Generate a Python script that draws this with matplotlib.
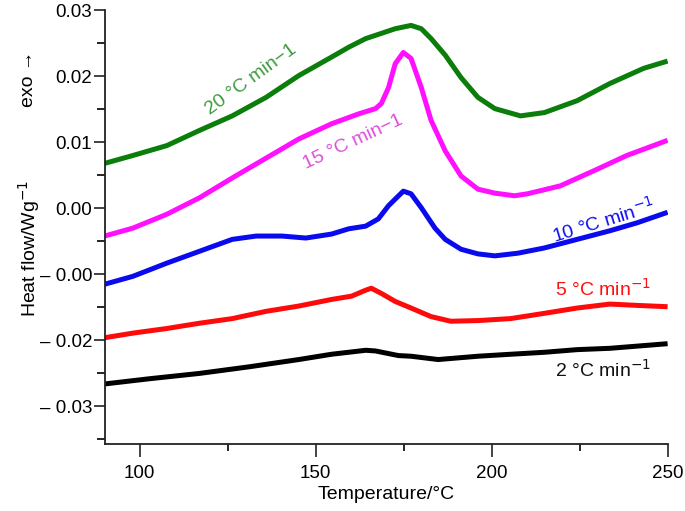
import numpy as np
import matplotlib.pyplot as plt
from matplotlib.ticker import MultipleLocator

plt.rcParams['font.family'] = ['Liberation Sans', 'DejaVu Sans']

# ── DSC traces (T in °C, heat flow in W/g) ───────────────────────────────────
t_20 = [90, 98.05, 107.7, 117.0, 126.3, 135.9, 145.2, 154.5, 159.4, 164.2, 168.7,
        172.6, 177.1, 180.0, 182.8, 186.8, 191.3, 196.1, 200.9, 208.2, 215.0,
        224.3, 233.6, 243.2, 250]
hf_20 = [0.0068, 0.0080, 0.0095, 0.0118, 0.0140, 0.0168, 0.0201, 0.0229, 0.0244,
         0.0257, 0.0265, 0.0272, 0.0277, 0.0272, 0.0257, 0.0232, 0.0198, 0.0168,
         0.0151, 0.0140, 0.0145, 0.0163, 0.0189, 0.0212, 0.0223]

t_15 = [90, 98.05, 107.7, 117.0, 126.3, 135.9, 145.2, 154.5, 162.2, 167.0, 168.7,
        170.7, 172.6, 174.9, 177.1, 180.0, 182.8, 186.8, 191.3, 196.1, 200.9,
        206.5, 210.2, 219.5, 229.1, 238.4, 250]
hf_15 = [-0.0042, -0.0030, -0.0009, 0.0016, 0.0046, 0.0076, 0.0105, 0.0128, 0.0143,
         0.0151, 0.0159, 0.0183, 0.0219, 0.0236, 0.0227, 0.0183, 0.0133, 0.0087,
         0.0049, 0.0029, 0.0023, 0.0019, 0.0022, 0.0034, 0.0057, 0.0080, 0.0103]

t_10 = [90, 98.05, 107.7, 117.0, 126.3, 133.1, 140.4, 147.2, 154.5, 159.4, 164.2,
        167.8, 170.7, 174.9, 177.1, 180.0, 183.9, 186.8, 191.3, 196.1, 200.9,
        207.4, 215.0, 224.3, 233.6, 241.3, 250]
hf_10 = [-0.0115, -0.0103, -0.0083, -0.0065, -0.0047, -0.0042, -0.0042, -0.0045,
         -0.0039, -0.0031, -0.0027, -0.0016, 0.0004, 0.0026, 0.0022, 0.0001,
         -0.0030, -0.0047, -0.0062, -0.0069, -0.0072, -0.0068, -0.0060, -0.0047,
         -0.0034, -0.0022, -0.0006]

t_5 = [90, 98.05, 107.7, 117.0, 126.3, 135.9, 145.2, 154.5, 160.2, 164.2, 165.8,
       168.7, 172.6, 177.1, 182.8, 188.4, 196.1, 205.4, 215.0, 224.3, 233.6,
       241.3, 250]
hf_5 = [-0.0196, -0.0189, -0.0182, -0.0174, -0.0167, -0.0156, -0.0148, -0.0138,
        -0.0133, -0.0124, -0.0121, -0.0129, -0.0141, -0.0151, -0.0164, -0.0171,
        -0.0170, -0.0167, -0.0159, -0.0151, -0.0145, -0.0147, -0.0149]

t_2 = [90, 102.9, 117.0, 131.1, 145.2, 154.5, 164.2, 167.0, 173.5, 177.1, 184.8,
       196.1, 205.4, 215.0, 224.3, 233.6, 250]
hf_2 = [-0.0266, -0.0258, -0.0250, -0.0240, -0.0229, -0.0221, -0.0215, -0.0216,
        -0.0223, -0.0224, -0.0229, -0.0224, -0.0221, -0.0218, -0.0214, -0.0212,
        -0.0205]

series = [
    (t_20, hf_20, '#0a7d0a'),
    (t_15, hf_15, '#ff10ff'),
    (t_10, hf_10, '#0a0aee'),
    (t_5, hf_5, '#ff0a0a'),
    (t_2, hf_2, '#000000'),
]

ytick_vals = [0.03, 0.02, 0.01, 0.00, -0.01, -0.02, -0.03]
ytick_text = ['0.03', '0.02', '0.01', '0.00', '– 0.00', '– 0.02', '– 0.03']

# ── Figure ───────────────────────────────────────────────────────────────────
fig = plt.figure(figsize=(6.85, 5.11), dpi=100)
ax = fig.add_axes([0.1526, 0.131, 0.822, 0.849])

for t, hf, col in series:
    ax.plot(t, hf, color=col, lw=3.6, solid_capstyle='butt', solid_joinstyle='round')

ax.set_xlim(90, 250)
ax.set_ylim(-0.0357, 0.03)

ax.set_xticks([100, 150, 200, 250])
ax.xaxis.set_minor_locator(MultipleLocator(25))
ax.set_yticks(ytick_vals)
ax.set_yticklabels(ytick_text)
ax.yaxis.set_minor_locator(MultipleLocator(0.005))

ax.tick_params(axis='both', which='major', labelsize=13.5, direction='out',
               width=1.2, color='#222222')
ax.tick_params(axis='x', which='major', length=9, pad=6)
ax.tick_params(axis='x', which='minor', length=5, width=1.2)
ax.tick_params(axis='y', which='major', length=8, pad=1)
ax.tick_params(axis='y', which='minor', length=6, width=1.2)

for side in ['top', 'right']:
    ax.spines[side].set_visible(False)
for side in ['left', 'bottom']:
    ax.spines[side].set_linewidth(1.3)
    ax.spines[side].set_color('#222222')

ax.set_xlabel('Temperature/°C', fontsize=14, labelpad=3)
fig.text(0.042, 0.513, 'Heat flow/Wg$^{-1}$', rotation=90, fontsize=14,
         ha='center', va='center')
fig.text(0.042, 0.845, 'exo →', rotation=90, fontsize=14,
         ha='center', va='center')

# curve labels
ax.text(131.7, 0.0195, '20 °C min−1', color='#3f9a3f', fontsize=14,
        rotation=36, ha='center', va='center', rotation_mode='anchor')
ax.text(160.5, 0.0101, '15 °C min−1', color='#dc4fdc', fontsize=14,
        rotation=25, ha='center', va='center', rotation_mode='anchor')
ax.text(231.7, -0.0018, '10 °C min$^{-1}$', color='#1010ee', fontsize=14,
        rotation=17, ha='center', va='center', rotation_mode='anchor')
ax.text(231.7, -0.0122, '5 °C min$^{-1}$', color='#ff1010', fontsize=14,
        ha='center', va='center')
ax.text(231.7, -0.0244, '2 °C min$^{-1}$', color='#111111', fontsize=14,
        ha='center', va='center')

fig.savefig('out.png', dpi=100)
